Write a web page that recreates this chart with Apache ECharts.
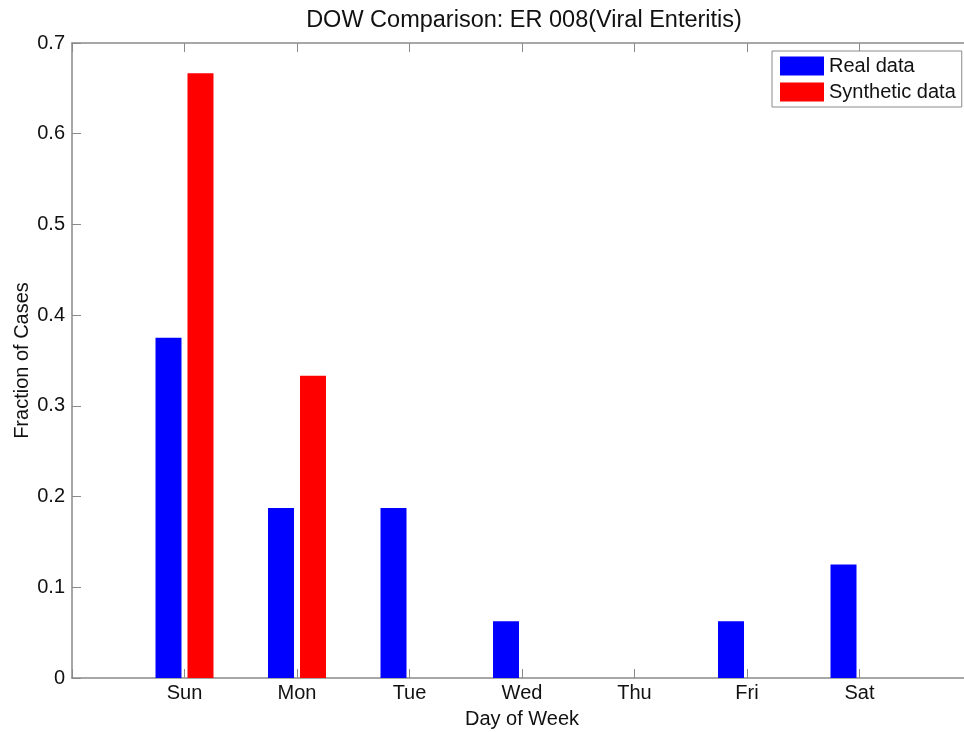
<!DOCTYPE html>
<html>
<head>
<meta charset="utf-8">
<script src="https://cdn.jsdelivr.net/npm/echarts@6/dist/echarts.min.js"></script>
<style>
html,body{margin:0;padding:0;background:#fff;}
#chart{width:964px;height:732px;}
</style>
</head>
<body>
<div id="chart"></div>
<script>
const days = ['Sun', 'Mon', 'Tue', 'Wed', 'Thu', 'Fri', 'Sat'];
const realData = [0.375, 0.1875, 0.1875, 0.0625, 0, 0.0625, 0.125];
const synthData = [0.6667, 0.3333, 0, 0, 0, 0, 0];
const yTicks = [0, 0.1, 0.2, 0.3, 0.4, 0.5, 0.6, 0.7];

// pad with empty slots at each side (x-limits 0..8)
const cats = [''].concat(days, ['']);
const pad = arr => [null].concat(arr, [null]);

const FONT = 'Liberation Sans, Arial, sans-serif';
const AX = '#8a8a8a';

const chart = echarts.init(document.getElementById('chart'), null, {renderer: 'canvas'});
chart.setOption({
  animation: false,
  backgroundColor: '#fff',
  title: {
    text: 'DOW Comparison: ER 008(Viral Enteritis)',
    left: 519, top: 4, textAlign: 'center',
    textStyle: {fontFamily: FONT, fontSize: 23.5, fontWeight: 'normal', color: '#111'}
  },
  legend: {
    orient: 'vertical',
    left: 772, top: 51,
    padding: [5, 6, 5, 8],
    itemWidth: 44, itemHeight: 19, itemGap: 6,
    borderColor: AX, borderWidth: 1,
    backgroundColor: '#fff',
    icon: 'rect',
    textStyle: {fontFamily: FONT, fontSize: 20, color: '#111', padding: [0, 0, 0, 0]},
    data: ['Real data', 'Synthetic data']
  },
  grid: {left: 72, top: 43, width: 900, bottom: 54, containLabel: false, outerBoundsMode: 'none'},
  xAxis: [{
    type: 'category', data: cats, boundaryGap: false, position: 'bottom',
    name: 'Day of Week', nameLocation: 'middle', nameGap: 31, nameMoveOverlap: false,
    nameTextStyle: {fontFamily: FONT, fontSize: 20, color: '#111'},
    axisLine: {lineStyle: {color: AX, width: 1.5}},
    axisTick: {inside: true, length: 9, lineStyle: {color: AX}},
    axisLabel: {fontFamily: FONT, fontSize: 20, color: '#111', margin: 5, interval: 0},
    splitLine: {show: false}
  }, {
    type: 'category', data: cats, boundaryGap: false, position: 'top',
    axisLine: {lineStyle: {color: AX, width: 1.5}},
    axisTick: {inside: true, length: 9, lineStyle: {color: AX}},
    axisLabel: {show: false},
    splitLine: {show: false}
  }],
  yAxis: {
    type: 'value', min: 0, max: 0.7, interval: 0.1,
    name: 'Fraction of Cases', nameLocation: 'middle', nameGap: 40, nameRotate: 90, nameMoveOverlap: false,
    nameTextStyle: {fontFamily: FONT, fontSize: 20, color: '#111'},
    axisLine: {show: true, lineStyle: {color: AX, width: 1.5}},
    axisTick: {show: true, inside: true, length: 9, lineStyle: {color: AX}},
    axisLabel: {fontFamily: FONT, fontSize: 20, color: '#111', margin: 7,
      formatter: v => yTicks.find(t => Math.abs(t - v) < 1e-9) === 0 ? '0' : String(Math.round(v * 10) / 10)},
    splitLine: {show: false}
  },
  series: [{
    name: 'Real data', type: 'bar', data: pad(realData),
    barWidth: 26, barGap: '23%',
    itemStyle: {color: '#0000ff'}
  }, {
    name: 'Synthetic data', type: 'bar', data: pad(synthData),
    barWidth: 26, barGap: '23%',
    itemStyle: {color: '#ff0000'}
  }]
});
</script>
</body>
</html>
